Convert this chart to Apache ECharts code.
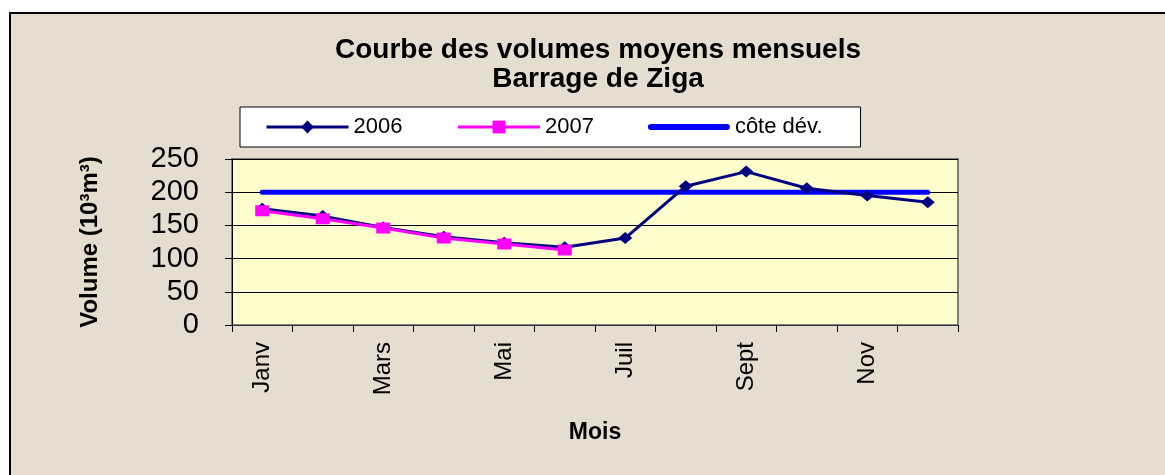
<!DOCTYPE html>
<html lang="fr">
<head>
  <meta charset="UTF-8">
  <title>Courbe des volumes moyens mensuels</title>
  <script src="https://cdn.jsdelivr.net/npm/echarts@6/dist/echarts.min.js"></script>
  <style>
    html, body { margin: 0; padding: 0; background: #fff; }
    /* cadre beige avec bord noir, coupé à droite et en bas */
    .cadre {
      position: absolute; left: 9px; top: 12px;
      width: 1170px; height: 480px;
      background: #E4DDD0;
      border-top: 2px solid #000; border-left: 2px solid #000;
    }
    #chart { position: absolute; left: 0; top: 0; width: 1165px; height: 475px; }
  </style>
</head>
<body>
  <div class="cadre"></div>
  <div id="chart"></div>
  <script>
    const mois = ['Janv', 'Févr', 'Mars', 'Avr', 'Mai', 'Juin', 'Juil', 'Août', 'Sept', 'Oct', 'Nov', 'Déc'];
    const vol2006 = [175, 164, 147, 133, 124, 117, 131, 209, 231, 206, 195, 185];
    const vol2007 = [172, 160, 146, 131, 122, 113];
    const coteDev = [200, 200, 200, 200, 200, 200, 200, 200, 200, 200, 200, 200];
    const yTicks = { min: 0, max: 250, interval: 50 };

    const police = "'Liberation Sans', Arial, sans-serif";
    const chart = echarts.init(document.getElementById('chart'));

    const option = {
      backgroundColor: 'transparent',
      textStyle: { fontFamily: police, color: '#000' },
      title: {
        text: 'Courbe des volumes moyens mensuels\nBarrage de Ziga',
        left: 593, top: 31, textAlign: 'center',
        textStyle: { fontSize: 28, fontWeight: 'bold', lineHeight: 29, fontFamily: police, color: '#000' }
      },
      legend: {
        left: 240, top: 107,
        padding: [9, 38, 9, 25],
        backgroundColor: '#fff', borderColor: '#000', borderWidth: 1,
        itemWidth: 82, itemHeight: 16, itemGap: 54,
        lineStyle: { width: 3 },
        textStyle: { fontSize: 22, fontFamily: police, color: '#000' },
        data: [
          '2006',
          '2007',
          // trait plein épais, sans marqueur
          { name: 'côte dév.', icon: 'path://M3,0 L79,0 A3,3 0 0 1 79,6 L3,6 A3,3 0 0 1 3,0 Z' }
        ]
      },
      grid: {
        show: true, left: 232, right: 207, top: 159, bottom: 150,
        backgroundColor: '#FFFDCC', borderColor: '#808080', borderWidth: 2
      },
      xAxis: {
        type: 'category',
        data: mois,
        boundaryGap: true,
        name: 'Mois', nameLocation: 'middle', nameGap: 96,
        nameTextStyle: { fontSize: 23, fontWeight: 'bold', fontFamily: police, color: '#000' },
        axisLine: { lineStyle: { color: '#333', width: 1 } },
        axisTick: { show: true, interval: 0, length: 7, lineStyle: { color: '#000' } },
        axisLabel: { interval: 1, rotate: 90, margin: 17, fontSize: 24, fontFamily: police, color: '#000' },
        splitLine: { show: false }
      },
      yAxis: {
        type: 'value',
        min: yTicks.min, max: yTicks.max, interval: yTicks.interval,
        name: 'Volume (10³m³)', nameLocation: 'middle', nameGap: 130, nameRotate: 90,
        nameTextStyle: { fontSize: 24, fontWeight: 'bold', fontFamily: police, color: '#000' },
        axisLine: { show: true, lineStyle: { color: '#000', width: 1 } },
        axisTick: { show: true, length: 7, lineStyle: { color: '#000' } },
        axisLabel: { margin: 33, fontSize: 29, fontFamily: police, color: '#000' },
        splitLine: { lineStyle: { color: '#000', width: 1 } }
      },
      series: [
        {
          name: 'côte dév.', type: 'line', data: coteDev, z: 1,
          symbol: 'none', color: '#0000FF',
          lineStyle: { color: '#0000FF', width: 5, cap: 'round' }
        },
        {
          name: '2006', type: 'line', data: vol2006, z: 2,
          symbol: 'diamond', symbolSize: [14, 12], color: '#000080',
          lineStyle: { color: '#000080', width: 3 },
          itemStyle: { color: '#000080' }
        },
        {
          name: '2007', type: 'line', data: vol2007, z: 3,
          symbol: 'rect', symbolSize: [14, 11], color: '#FF00FF',
          lineStyle: { color: '#FF00FF', width: 3 },
          itemStyle: { color: '#FF00FF' }
        }
      ]
    };
    chart.setOption(option);
  </script>
</body>
</html>
